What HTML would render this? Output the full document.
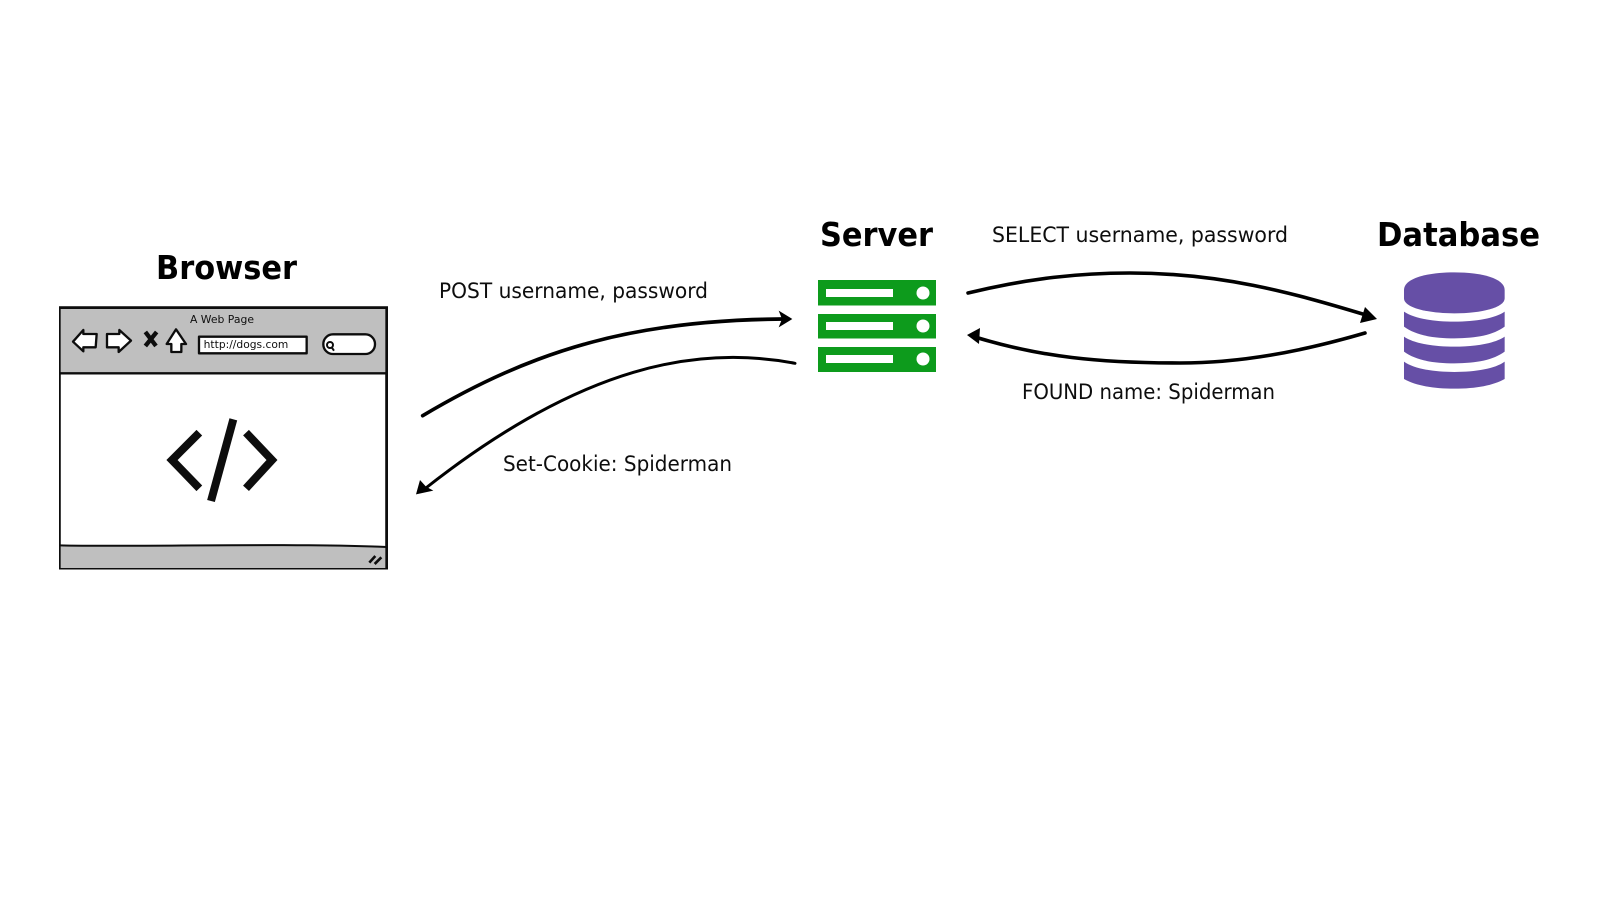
<!DOCTYPE html>
<html><head><meta charset="utf-8"><style>
html,body{margin:0;padding:0;background:#fff;width:1600px;height:900px;overflow:hidden}
svg{display:block}
text{font-family:"DejaVu Sans","Liberation Sans",sans-serif;fill:#111}
.t{font-size:21px}
.h{font-size:33px;font-weight:bold;fill:#000}
.a{fill:none;stroke:#000;stroke-linecap:round}
</style></head><body>
<svg width="1600" height="900" viewBox="0 0 1600 900" xmlns="http://www.w3.org/2000/svg">
<defs><filter id="s" x="0" y="0" width="100%" height="100%"><feGaussianBlur stdDeviation="0.35"/></filter></defs>
<rect width="1600" height="900" fill="#fff"/>
<g filter="url(#s)">
<text class="h" x="156" y="279" textLength="141" lengthAdjust="spacingAndGlyphs">Browser</text>
<text class="h" x="820" y="246" textLength="113" lengthAdjust="spacingAndGlyphs">Server</text>
<text class="h" x="1377" y="246" textLength="163" lengthAdjust="spacingAndGlyphs">Database</text>
<text class="t" x="439" y="298" textLength="269" lengthAdjust="spacingAndGlyphs">POST username, password</text>
<text class="t" x="503" y="471" textLength="229" lengthAdjust="spacingAndGlyphs">Set-Cookie: Spiderman</text>
<text class="t" x="992" y="242" textLength="296" lengthAdjust="spacingAndGlyphs">SELECT username, password</text>
<text class="t" x="1022" y="399" textLength="253" lengthAdjust="spacingAndGlyphs">FOUND name: Spiderman</text>

<g transform="translate(40,240) scale(.33333)">
<rect x="58" y="203" width="982" height="785" fill="#fff" stroke="#111" stroke-width="8"/>
<rect x="60" y="206" width="978" height="194" fill="#bfbfbf"/>
<path d="M60 918 C300 922,700 910,1038 920 L1038 986 L60 986Z" fill="#bfbfbf"/>
<path d="M58 400H1040" stroke="#111" stroke-width="7" fill="none"/>
<path d="M58 916 C300 922,700 908,1040 921" stroke="#111" stroke-width="6" fill="none"/>
<rect x="58" y="203" width="982" height="785" fill="none" stroke="#111" stroke-width="8"/>
<text x="450" y="249" font-size="32" textLength="192" lengthAdjust="spacingAndGlyphs">A Web Page</text>
<g fill="#fff" stroke="#111" stroke-width="7" stroke-linejoin="round">
<path d="M99 305 L130 270 V282 H170 L167 322 H130 V334Z"/>
<path d="M273 302 L238 270 V282 H201 V322 H236 V336Z"/>
<path d="M408 268 L438 312 H424 V336 H394 V312 H380Z"/>
<path d="M477 290 H800 V340 H477Z"/>
<rect x="850" y="283" width="155" height="59" rx="29"/>
</g>
<path d="M316 276 L348 318 M350 276 L316 318" stroke="#111" stroke-width="13" fill="none"/>
<text x="491" y="324" font-size="31" textLength="254" lengthAdjust="spacingAndGlyphs">http://dogs.com</text>
<circle cx="870" cy="315" r="9" fill="none" stroke="#111" stroke-width="6"/>
<path d="M875 322L882 332" stroke="#111" stroke-width="6"/>
<path d="M478 578 L396 660 L478 745 M618 578 L696 660 L618 745" fill="none" stroke="#111" stroke-width="24"/>
<path d="M580 538 L513 783" fill="none" stroke="#111" stroke-width="24"/>
<path d="M988 968 L1006 948 M1004 972 L1024 952" stroke="#111" stroke-width="8" fill="none"/>
</g>

<g fill="#0b9b1c">
<rect x="818" y="280" width="118" height="25.5"/>
<rect x="818" y="314" width="118" height="24.5"/>
<rect x="818" y="347" width="118" height="25"/>
</g>
<g fill="#fff">
<rect x="826" y="289" width="67" height="8"/><circle cx="923" cy="293" r="6.5"/>
<rect x="826" y="322" width="67" height="8"/><circle cx="923" cy="326" r="6.5"/>
<rect x="826" y="355" width="67" height="8"/><circle cx="923" cy="359" r="6.5"/>
</g>

<g transform="translate(1200,200) scale(.33333)" fill="#6650a6">
<path d="M612 270 C612 235,680 217,763 217 C846 217,914 235,914 270 V295 C914 322,846 340,763 340 C680 340,612 322,612 295Z"/>
<path d="M612 335 C640 355,700 365,763 365 C826 365,886 355,914 335 V380 C880 405,830 415,763 415 C696 415,646 405,612 380Z"/>
<path d="M612 410 C640 430,700 440,763 440 C826 440,886 430,914 410 V455 C880 480,830 490,763 490 C696 490,646 480,612 455Z"/>
<path d="M612 485 C640 506,700 516,763 516 C826 516,886 506,914 485 V537 C880 556,830 566,763 566 C696 566,646 556,612 537Z"/>
</g>

<g transform="translate(400,270) scale(.33333)">
<path class="a" stroke-width="11" d="M68 437 C400 240,700 150,1150 147"/>
<path d="M1177 147 L1136 122 L1146 147 L1136 172Z" fill="#000"/>
<path class="a" stroke-width="9" d="M1185 280 C900 225,550 280,70 660"/>
<path d="M48 673 L60 630 L78 650 L100 662Z" fill="#000"/>
</g>
<path class="a" stroke-width="3.6" d="M968 293 C1030 278,1080 273,1130 273 C1220 273,1290 292,1366 315"/>
<path d="M1377 319 L1365 307 L1360 323Z" fill="#000"/>
<path class="a" stroke-width="3.6" d="M1365 333 C1300 352,1240 363,1180 363 C1100 363,1040 357,975 337"/>
<path d="M967 335 L980 328 L979 344Z" fill="#000"/>
</g>
</svg>
</body></html>
